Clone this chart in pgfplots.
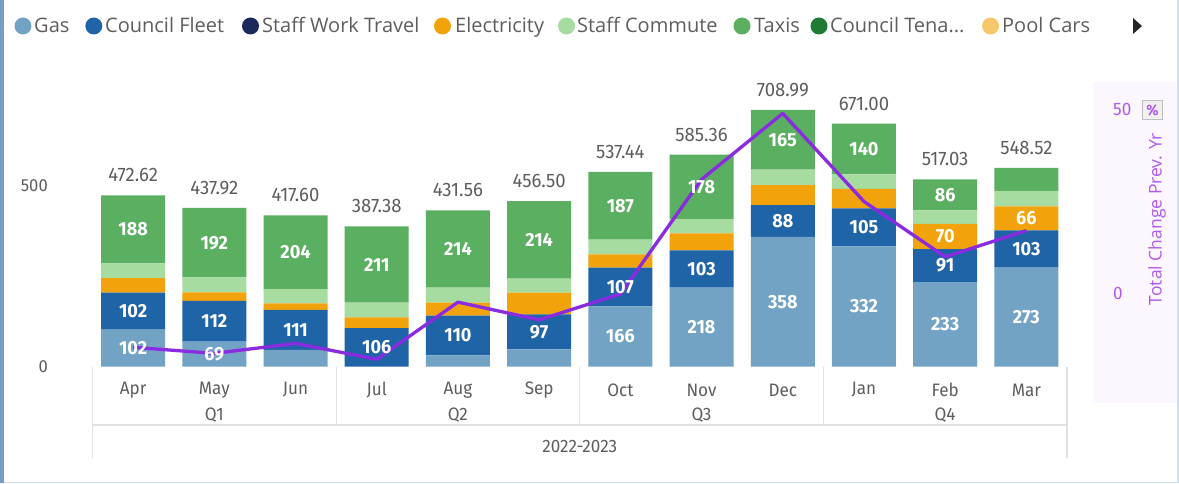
\documentclass[border=0pt]{standalone}
\usepackage{pgfplots}
\pgfplotsset{compat=1.18}
\usepackage{pgfplotstable}
\usepackage{fontspec}
\setmainfont{Open Sans}
\newfontfamily\din[FakeStretch=0.95]{Fira Sans}
\definecolor{gasc}{RGB}{114,163,197}
\definecolor{cfc}{RGB}{31,100,167}
\definecolor{swtc}{RGB}{27,42,91}
\definecolor{elc}{RGB}{242,162,10}
\definecolor{scc}{RGB}{167,220,160}
\definecolor{txc}{RGB}{91,175,96}
\definecolor{ctc}{RGB}{30,123,52}
\definecolor{pcc}{RGB}{248,199,106}
\definecolor{txtgray}{RGB}{96,94,92}
\definecolor{purp}{RGB}{178,90,232}
\definecolor{linec}{RGB}{138,43,226}
\definecolor{sepc}{RGB}{225,225,225}
\definecolor{lav}{RGB}{252,246,254}
\definecolor{edgeb}{RGB}{120,158,200}
\definecolor{edgel}{RGB}{205,224,242}

\pgfplotstableread{
x gas cf swt el sc tx ct pc
0 102 102 0 40 40.62 188 0 0
1 69 112 0 24 40.92 192 0 0
2 45.6 111 0 18 39 204 0 0
3 0 106 0 29.5 40.88 211 0 0
4 30.56 110 0 36 41 214 0 0
5 47 97 0 60 38.5 214 0 0
6 166 107 0 37 40.44 187 0 0
7 218 103 0 47 39.36 178 0 0
8 358 88 0 55 42.99 165 0 0
9 332 105 0 53.6 40.4 140 0 0
10 233 91 0 70 37.03 86 0 0
11 273 103 0 66 43 63.52 0 0
}\bars

\pgfplotstableread{
x y l
0 472.62 472.62
1 437.92 437.92
2 417.60 417.60
3 387.38 387.38
4 431.56 431.56
5 456.50 456.50
6 537.44 537.44
7 585.36 585.36
8 708.99 708.99
9 671.00 671.00
10 517.03 517.03
11 548.52 548.52
}\totals

\pgfplotstableread{
x y l
0 51 102
0 153 102
0 378.62 188
1 34.5 69
1 125 112
1 341.92 192
2 101.1 111
2 315.6 204
3 53 106
3 281.88 211
4 85.56 110
4 324.56 214
5 95.5 97
5 349.5 214
6 83 166
6 219.5 107
6 443.94 187
7 109 218
7 269.5 103
7 496.36 178
8 179 358
8 402 88
8 626.49 165
9 166 332
9 384.5 105
9 601 140
10 116.5 233
10 278.5 91
10 359 70
10 474.03 86
11 136.5 273
11 324.5 103
11 409 66
}\seglabels

\pgfplotsset{
  geom/.style={at={(92.5pt,116.5pt)}, anchor=south west, scale only axis,
    width=974.5pt, height=289.6pt, xmin=-0.5, xmax=11.5, clip=false},
}

\begin{document}
\begin{tikzpicture}
\fill[white] (0pt,0pt) rectangle (1179pt,483pt);
\fill[lav] (1093pt,80pt) rectangle (1177pt,401pt);
\fill[edgeb] (0pt,0pt) rectangle (4pt,483pt);
\fill[edgel] (4pt,0pt) rectangle (1179pt,1.2pt);
\fill[edgel] (1177pt,0pt) rectangle (1179pt,483pt);

% bars
\begin{axis}[geom, ymin=0, ymax=800,
  ybar stacked, bar width=64pt,
  axis line style={draw=none}, major tick length=0pt,
  xtick={0,...,11},
  xticklabels={Apr,May,Jun,Jul,Aug,Sep,Oct,Nov,Dec,Jan,Feb,Mar},
  ytick={0,500},
  /pgf/number format/assume math mode=true,
  xticklabel style={font=\din\fontsize{18}{20}\selectfont, text=txtgray, anchor=center, inner sep=0pt, yshift=-23.5pt},
  yticklabel style={font=\din\fontsize{17.5}{19}\selectfont, text=txtgray, anchor=east, inner sep=0pt, xshift=-44.5pt},
]
\addplot[fill=gasc, draw=none] table[x=x,y=gas]{\bars};
\addplot[fill=cfc, draw=none] table[x=x,y=cf]{\bars};
\addplot[fill=swtc, draw=none] table[x=x,y=swt]{\bars};
\addplot[fill=elc, draw=none] table[x=x,y=el]{\bars};
\addplot[fill=scc, draw=none] table[x=x,y=sc]{\bars};
\addplot[fill=txc, draw=none] table[x=x,y=tx]{\bars};
\addplot[fill=ctc, draw=none] table[x=x,y=ct]{\bars};
\addplot[fill=pcc, draw=none] table[x=x,y=pc]{\bars};
\end{axis}

% line, right axis
\begin{axis}[geom, ymin=-19.86, ymax=58.71,
  axis x line=none, axis y line*=right, axis line style={draw=none},
  major tick length=0pt, ytick={0,50},
  /pgf/number format/assume math mode=true,
  yticklabel style={font=\din\fontsize{18}{20}\selectfont, text=purp, anchor=west, inner sep=0pt, xshift=46pt},
]
\addplot[linec, line width=3.3pt, line join=round, mark=none] coordinates {
(0,-14.65) (1,-16.3) (2,-13.6) (3,-17.9) (4,-2.4) (5,-7.2)
(6,-0.2) (7,30.9) (8,48.8) (9,24.9) (10,9.9) (11,17.0)};
\end{axis}

% labels
\begin{axis}[geom, ymin=0, ymax=800, hide axis]
\addplot[draw=none, mark=none, nodes near coords, point meta=explicit symbolic,
  nodes near coords style={anchor=south, inner sep=0pt, yshift=13pt,
    font=\din\fontsize{19.5}{21}\selectfont, text=txtgray}]
  table[x=x,y=y,meta=l]{\totals};
\addplot[draw=none, mark=none, nodes near coords, point meta=explicit symbolic,
  nodes near coords style={anchor=center, inner sep=0pt,
    font=\din\bfseries\fontsize{19}{21}\selectfont, text=white}]
  table[x=x,y=y,meta=l]{\seglabels};
\end{axis}

% hierarchical axis lines
\draw[sepc, line width=1.2pt] (92.5pt,58pt) -- (1067pt,58pt);
\draw[sepc, line width=1.2pt] (92.5pt,116pt) -- (92.5pt,25pt);
\draw[sepc, line width=1.2pt] (1067pt,116pt) -- (1067pt,25pt);
\draw[sepc, line width=1.2pt] (336.1pt,116pt) -- (336.1pt,58pt);
\draw[sepc, line width=1.2pt] (579.7pt,116pt) -- (579.7pt,58pt);
\draw[sepc, line width=1.2pt] (823.3pt,116pt) -- (823.3pt,58pt);
\begin{scope}[every node/.style={font=\din\fontsize{18}{20}\selectfont, text=txtgray, inner sep=0pt}]
\node at (214.3pt,68pt) {Q1};
\node at (457.9pt,68pt) {Q2};
\node at (701.5pt,68pt) {Q3};
\node at (945.1pt,68pt) {Q4};
\node at (579.75pt,37pt) {2022-2023};
\end{scope}

% right axis title and % box
\node[rotate=90, font=\fontsize{17.5}{19}\selectfont, text=purp, inner sep=0pt] at (1157pt,264pt) {Total Change Prev. Yr};
\node[draw=black!25, fill=black!6, line width=0.8pt, minimum width=20pt, minimum height=19pt, inner sep=0pt,
  font=\din\bfseries\fontsize{15}{16}\selectfont, text=purp] at (1152.5pt,373pt) {\%};

% legend
\begin{scope}[every node/.style={font=\fontsize{20}{22}\selectfont, text=txtgray, inner sep=0pt, anchor=base west}]
\fill[gasc] (23pt,457pt) circle (8.5pt);   \node at (34pt,450pt) {Gas};
\fill[cfc] (93.8pt,457pt) circle (8.5pt);  \node at (105pt,450pt) {Council Fleet};
\fill[swtc] (250.5pt,457pt) circle (8.5pt); \node at (262pt,450pt) {Staff Work Travel};
\fill[elc] (442.5pt,457pt) circle (8.5pt); \node at (455pt,450pt) {Electricity};
\fill[scc] (566.5pt,457pt) circle (8.5pt); \node at (577pt,450pt) {Staff Commute};
\fill[txc] (742pt,457pt) circle (8.5pt);   \node at (754pt,450pt) {Taxis};
\fill[ctc] (819pt,457pt) circle (8.5pt);   \node at (830pt,450pt) {Council Tena...};
\fill[pcc] (990.5pt,457pt) circle (8.5pt); \node at (1002pt,450pt) {Pool Cars};
\end{scope}
\fill[black!85] (1133pt,465pt) -- (1142pt,457pt) -- (1133pt,449pt) -- cycle;
\end{tikzpicture}
\end{document}
